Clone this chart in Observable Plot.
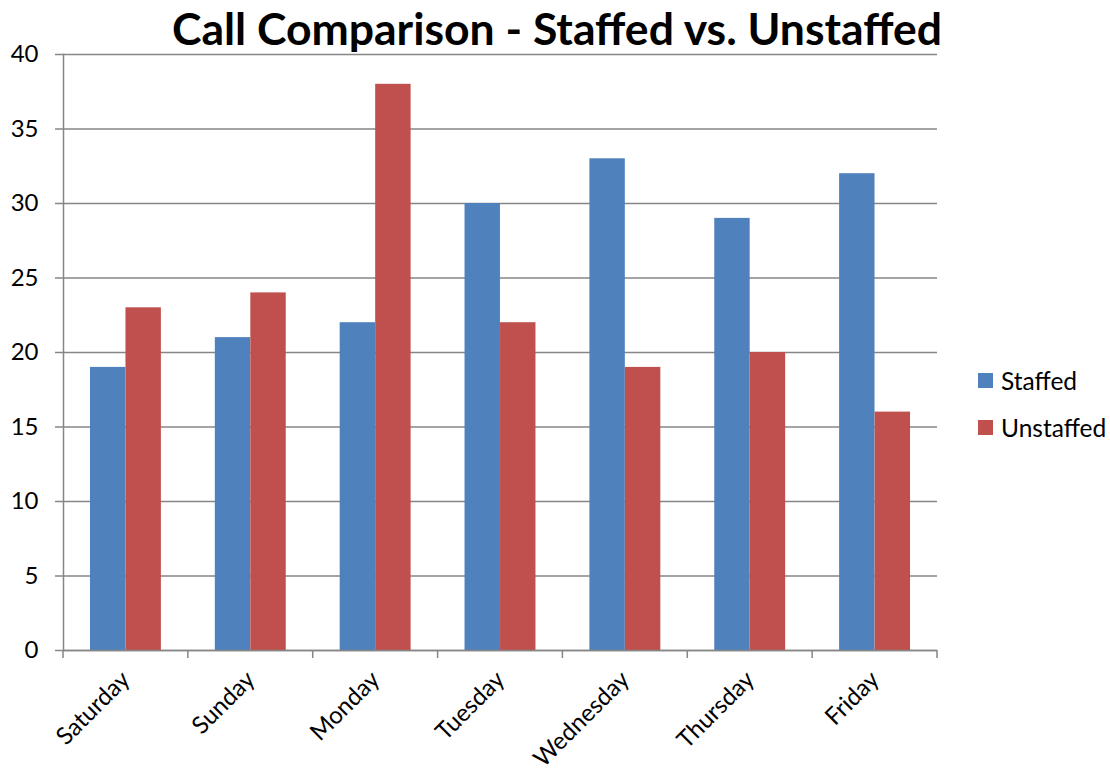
<!DOCTYPE html>
<html>
<head>
<meta charset="utf-8">
<script src="https://cdn.jsdelivr.net/npm/d3@7"></script>
<script src="https://cdn.jsdelivr.net/npm/@observablehq/plot@0.6"></script>
<style>
  html, body { margin: 0; padding: 0; background: #fff; }
  #wrap { position: relative; width: 1110px; height: 774px; overflow: hidden; font-family: Lato, "Open Sans", sans-serif; }
  #title { height: 44px; margin: 0; text-align: center; font-weight: bold; font-size: 44.5px; line-height: 56px; color: #000; white-space: nowrap; padding-left: 4px; }
  #legend { position: absolute; left: 978px; top: 365px; font-size: 24.5px; color: #000; }
  .item { display: flex; align-items: center; height: 30px; margin-bottom: 17px; }
  .sw { width: 15px; height: 15px; margin-right: 8px; }
</style>
</head>
<body>
<div id="wrap">
  <div id="title">Call Comparison - Staffed vs. Unstaffed</div>
  <div id="chart"></div>
  <div id="legend"></div>
</div>
<script>
const days = ["Saturday", "Sunday", "Monday", "Tuesday", "Wednesday", "Thursday", "Friday"];
const staffed = [19, 21, 22, 30, 33, 29, 32];
const unstaffed = [23, 24, 38, 22, 19, 20, 16];
const seriesNames = ["Staffed", "Unstaffed"];
const seriesColors = ["#4F81BD", "#C0504D"];
const yTicks = [0, 5, 10, 15, 20, 25, 30, 35, 40];

const rows = days.flatMap((d, i) => [
  {day: d, series: seriesNames[0], value: staffed[i]},
  {day: d, series: seriesNames[1], value: unstaffed[i]}
]);

const padIn = 0.432;
const axisGray = "#868686";

function boundaryTicks(index, scales, values, dims) {
  const x = scales.x, y = scales.y;
  const s = x(days[1]) - x(days[0]);
  const xs = days.map(d => x(d) - s * padIn / 2);
  xs.push(x(days[days.length - 1]) + s * (1 - padIn / 2));
  const y0 = y(0);
  const g = d3.create("svg:g");
  g.selectAll("line").data(xs).join("line")
    .attr("x1", d => d).attr("x2", d => d)
    .attr("y1", y0).attr("y2", y0 + 8)
    .attr("stroke", axisGray).attr("stroke-width", 1.5);
  return g.node();
}

const chart = Plot.plot({
  width: 1110,
  height: 730,
  marginLeft: 63,
  marginRight: 173,
  marginTop: 10,
  marginBottom: 124,
  style: {fontFamily: "Lato, 'Open Sans', sans-serif", fontSize: "24px", color: "#000", background: "#fff", overflow: "visible"},
  x: {domain: days, paddingInner: padIn, paddingOuter: padIn / 2, round: false, label: null},
  y: {domain: [0, 40], label: null},
  color: {domain: seriesNames, range: seriesColors},
  marks: [
    Plot.gridY(yTicks, {stroke: axisGray, strokeOpacity: 1, strokeWidth: 1.5}),
    Plot.barY(rows.filter(r => r.series === seriesNames[0]), {x: "day", y: "value", fill: "series", insetRight: 35.5}),
    Plot.barY(rows.filter(r => r.series === seriesNames[1]), {x: "day", y: "value", fill: "series", insetLeft: 35.5}),
    Plot.ruleY([0], {stroke: axisGray, strokeWidth: 1.5}),
    Plot.frame({anchor: "left", stroke: axisGray, strokeWidth: 1.5}),
    boundaryTicks,
    Plot.axisY({ticks: yTicks, tickSize: 8, tickPadding: 17, stroke: axisGray, strokeWidth: 1.5, fill: "#000", fontSize: 24, label: null}),
    Plot.axisX({tickSize: 0, tickPadding: 25, tickRotate: -45, fill: "#000", fontSize: 24, label: null})
  ]
});
document.getElementById("chart").appendChild(chart);

const legend = document.getElementById("legend");
seriesNames.forEach((name, i) => {
  const item = document.createElement("div");
  item.className = "item";
  const sw = document.createElement("span");
  sw.className = "sw";
  sw.style.background = seriesColors[i];
  const t = document.createElement("span");
  t.textContent = name;
  item.appendChild(sw);
  item.appendChild(t);
  legend.appendChild(item);
});
</script>
</body>
</html>
